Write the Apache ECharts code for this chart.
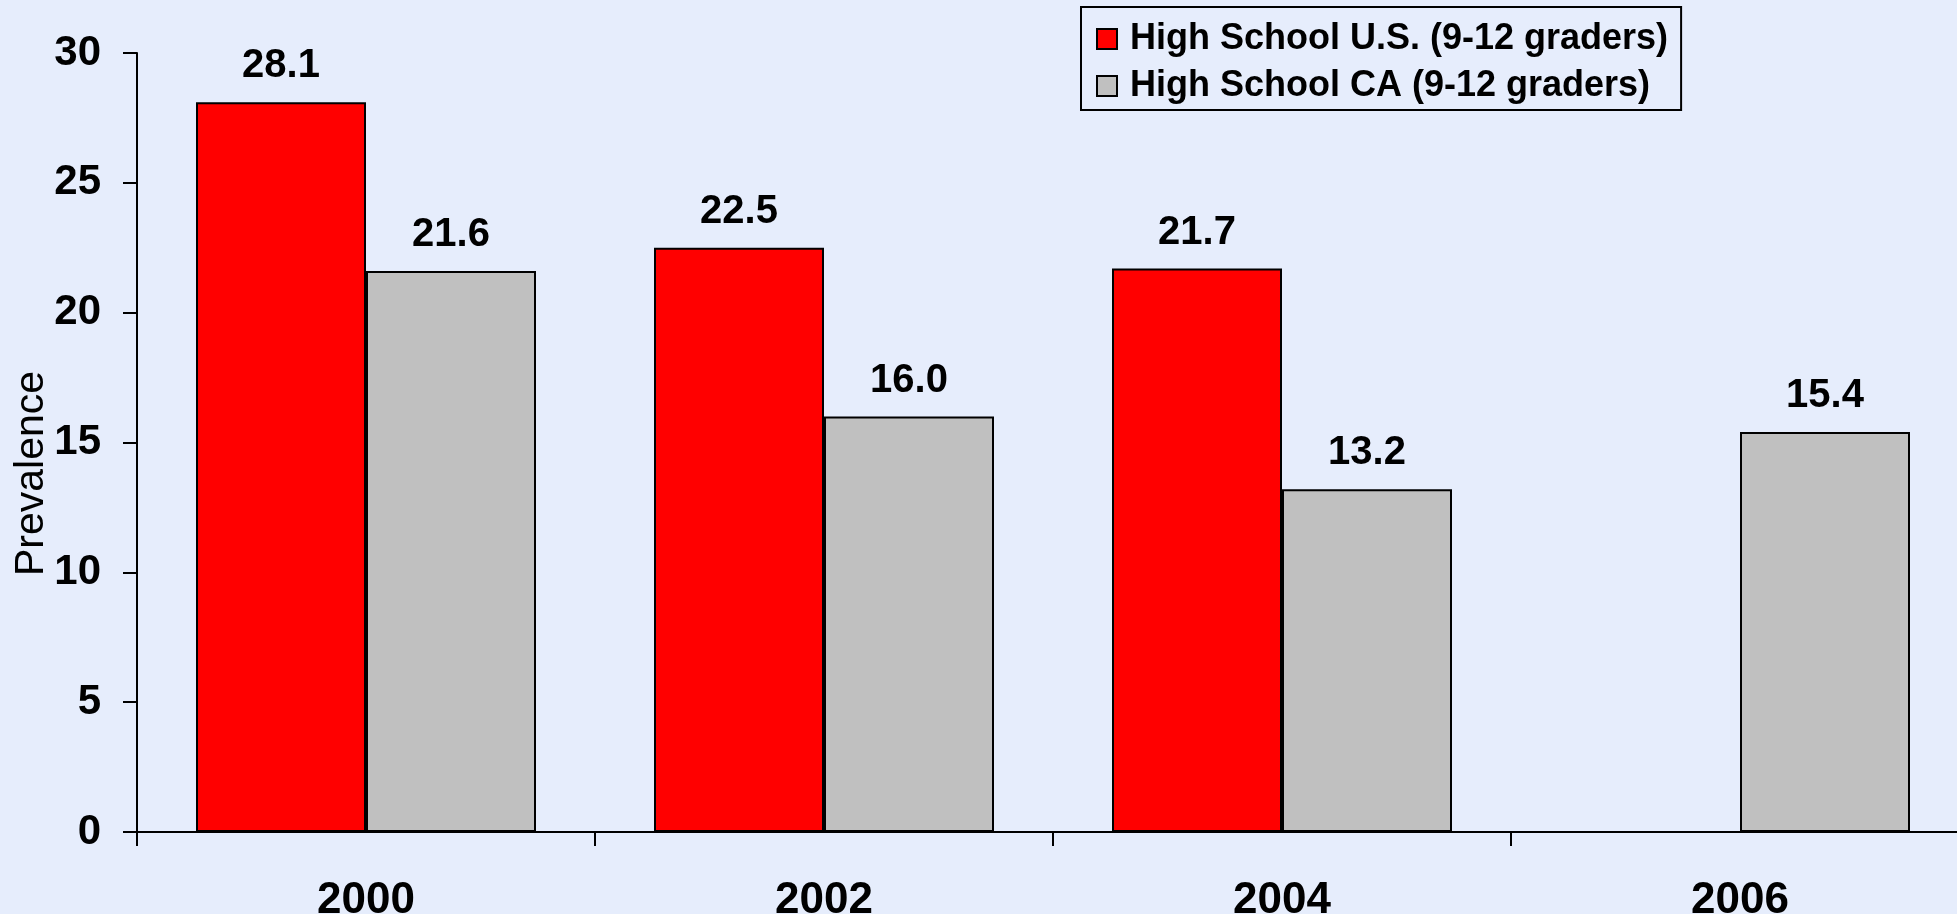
<!DOCTYPE html>
<html>
<head>
<meta charset="utf-8">
<script src="https://cdn.jsdelivr.net/npm/echarts@6/dist/echarts.min.js"></script>
<style>
html,body{margin:0;padding:0;background:#E6EDFC;}
#chart{width:1957px;height:914px;}
</style>
</head>
<body>
<div id="chart"></div>
<script>
const categories = ['2000', '2002', '2004', '2006'];
const usValues = [28.1, 22.5, 21.7, null];
const caValues = [21.6, 16.0, 13.2, 15.4];
const seriesNames = ['High School U.S. (9-12 graders)', 'High School CA (9-12 graders)'];
const yTicks = { min: 0, max: 30, interval: 5 };
const yAxisName = 'Prevalence';

const FONT = '"Liberation Sans", Arial, sans-serif';
const chart = echarts.init(document.getElementById('chart'), null, { renderer: 'canvas' });

const labelCfg = {
  show: true,
  position: 'top',
  distance: 16,
  color: '#000',
  fontFamily: FONT,
  fontWeight: 'bold',
  fontSize: 40,
  formatter: p => (p.value == null ? '' : Number(p.value).toFixed(1))
};

chart.setOption({
  backgroundColor: '#E6EDFC',
  animation: false,
  grid: { left: 137, top: 53, width: 1832, height: 779, outerBoundsMode: 'none', containLabel: false },
  legend: {
    orient: 'vertical',
    left: 1081,
    top: 7,
    padding: [14, 13, 6, 15],
    itemGap: 11,
    itemWidth: 20,
    itemHeight: 20,
    borderColor: '#000',
    borderWidth: 2,
    icon: 'rect',
    textStyle: {
      fontFamily: FONT,
      fontWeight: 'bold',
      fontSize: 36,
      lineHeight: 35,
      color: '#000',
      padding: [0, 0, 0, 8]
    },
    data: seriesNames
  },
  xAxis: {
    type: 'category',
    data: categories,
    axisLine: { lineStyle: { color: '#000', width: 2 } },
    axisTick: { show: true, length: 14, lineStyle: { color: '#000', width: 2 } },
    axisLabel: {
      margin: 47,
      color: '#000',
      fontFamily: FONT,
      fontWeight: 'bold',
      fontSize: 44
    },
    splitLine: { show: false }
  },
  yAxis: {
    type: 'value',
    min: yTicks.min,
    max: yTicks.max,
    interval: yTicks.interval,
    name: yAxisName,
    nameLocation: 'middle',
    nameGap: 85,
    nameMoveOverlap: false,
    nameTextStyle: {
      fontFamily: FONT,
      fontSize: 41,
      color: '#000',
      padding: [0, 62, 0, 0]
    },
    axisLine: { show: true, lineStyle: { color: '#000', width: 2 } },
    axisTick: { show: true, length: 14, lineStyle: { color: '#000', width: 2 } },
    axisLabel: {
      margin: 36,
      color: '#000',
      fontFamily: FONT,
      fontWeight: 'bold',
      fontSize: 42
    },
    splitLine: { show: false }
  },
  series: [
    {
      name: seriesNames[0],
      type: 'bar',
      data: usValues,
      barWidth: 170,
      barGap: '0%',
      itemStyle: { color: '#FF0000', borderColor: '#000', borderWidth: 2 },
      label: labelCfg
    },
    {
      name: seriesNames[1],
      type: 'bar',
      data: caValues,
      barWidth: 170,
      barGap: '0%',
      itemStyle: { color: '#C0C0C0', borderColor: '#000', borderWidth: 2 },
      label: labelCfg
    }
  ]
});
</script>
</body>
</html>
